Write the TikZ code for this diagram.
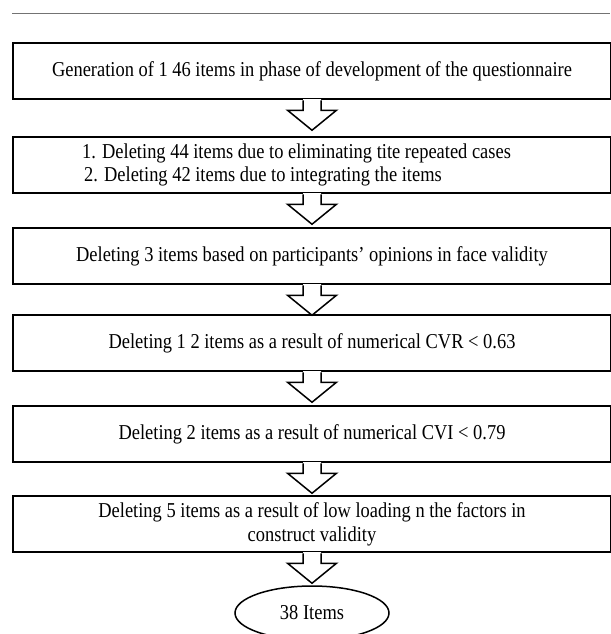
\documentclass[tikz,border=0pt]{standalone}
\usepackage{fontspec}
\setmainfont{Liberation Serif}[FakeStretch=0.87]
\usetikzlibrary{shapes.geometric}
\tikzset{
  box/.style={draw, line width=2pt, minimum width=598pt, minimum height=56.5pt,
    inner sep=0pt, font=\fontsize{21.2}{24}\selectfont, align=center},
  boxtext/.style={inner sep=0pt, font=\fontsize{21.2}{22.5}\selectfont, align=left},
  arrowline/.style={line width=1.5pt, line join=miter},
  endnode/.style={ellipse, draw, line width=1.5pt, minimum width=154pt,
    minimum height=54pt, inner sep=0pt, font=\fontsize{21.2}{24}\selectfont},
  rule/.style={draw=black!55, line width=1pt}
}
\newcommand\blockarrow[1]{%
  \fill[white, shift={(#1.south)}] (-9,-1.2) -- (-9,10) -- (-24.5,10) -- (0,30)
    -- (24.5,10) -- (9,10) -- (9,-1.2) -- cycle;
  \draw[arrowline, shift={(#1.south)}] (-9,0) -- (-9,10) -- (-24.5,10) -- (0,30)
    -- (24.5,10) -- (9,10) -- (9,0);
}
\begin{document}
\begin{tikzpicture}[x=1pt, y=-1pt]
\useasboundingbox (0,0) rectangle (610,634);
\coordinate (r1) at (12,14);
\coordinate (r2) at (610,14);
\draw[rule] (r1) -- (r2);

\node[box] (b1) at (312,71) {Generation of 1 46 items in phase of development of the questionnaire};
\node[box] (b2) at (312,165) {};
\node[boxtext, anchor=west] (t2) at (82,165) {1. Deleting 44 items due to eliminating tite repeated cases\\\hspace*{2pt}2. Deleting 42 items due to integrating the items};
\node[box] (b3) at (312,256) {Deleting 3 items based on participants’ opinions in face validity};
\node[box] (b4) at (312,343) {Deleting 1 2 items as a result of numerical CVR < 0.63};
\node[box] (b5) at (312,434) {Deleting 2 items as a result of numerical CVI < 0.79};
\node[box] (b6) at (312,524) {Deleting 5 items as a result of low loading n the factors in\\construct validity};
\node[endnode] (e) at (312,613) {38 Items};

\blockarrow{b1}
\blockarrow{b2}
\blockarrow{b3}
\blockarrow{b4}
\blockarrow{b5}
\blockarrow{b6}
\end{tikzpicture}
\end{document}
